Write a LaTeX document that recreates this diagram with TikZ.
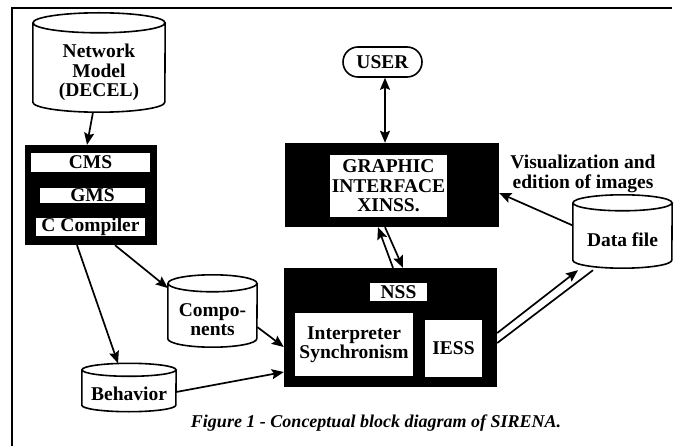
\documentclass[tikz,border=0pt]{standalone}
\usepackage{fontspec}
\setmainfont{Liberation Serif}
\usetikzlibrary{shapes.misc,arrows.meta}
\newcommand\diafont{\fontsize{19.5}{19.5}\selectfont\bfseries}
% cylinder round the last node: #1 x radius, #2 y radius
\newcommand\drawstore[2]{\pgfextra{\draw[line width=1.6pt]
    ([yshift=#2]\tikzlastnode.north) ellipse [x radius=#1,y radius=#2]
    ([yshift=#2]\tikzlastnode.north west) -- ([yshift=#2]\tikzlastnode.south west)
    arc[start angle=180,end angle=360,x radius=#1,y radius=#2] -- ([yshift=#2]\tikzlastnode.north east);}}

\begin{document}
\begin{tikzpicture}[x=1pt,y=-1pt,
    blk/.style={fill=black,inner sep=0pt},
    lbl/.style={fill=white,inner sep=0pt,font=\diafont,align=center},
    store/.style 2 args={rectangle,inner sep=0pt,font=\diafont,align=center,
      minimum width=2*#1,append after command={\drawstore{#1}{#2}}},
    arr/.style={line width=1.7pt,-{Stealth[length=12pt,width=10pt,inset=2pt]}},
    darr/.style={line width=1.7pt,{Stealth[length=12pt,width=10pt,inset=2pt]}-{Stealth[length=12pt,width=10pt,inset=2pt]}}]
  \useasboundingbox (0,0) rectangle (677,446);
  \draw[line width=1.3pt] (12,446) -- (12,8) -- (672,8);
  % left column
  \node[store={66pt}{10pt},minimum height=79pt] (net) at (99,72.5) {Network\\Model\\(DECEL)};
  \node[blk,minimum width=132pt,minimum height=100pt] (cc) at (91,195) {};
  \node[lbl,minimum width=119pt,minimum height=19pt] (cms) at (90.5,162.5) {CMS};
  \node[lbl,minimum width=105pt,minimum height=15pt] (gms) at (92.5,195.5) {GMS};
  \node[lbl,minimum width=109pt,minimum height=14pt] (ccomp) at (90.5,227) {C Compiler};
  \node[store={44.5pt}{8.5pt},minimum height=55pt] (comp) at (212.5,319.5) {Compo-\\nents};
  \node[store={47pt}{6.5pt},minimum height=35pt] (beh) at (129,394) {Behavior};
  % right column
  \node[rounded rectangle,draw,line width=1.6pt,font=\diafont,minimum width=79pt,minimum height=30pt,inner sep=0pt] (user) at (382.5,62) {USER};
  \node[blk,minimum width=214pt,minimum height=84pt] (gui) at (392,185) {};
  \node[lbl,minimum width=117pt,minimum height=62pt] (xinss) at (388.5,186) {GRAPHIC\\INTERFACE\\XINSS.};
  \node[blk,minimum width=213pt,minimum height=119pt] (nss) at (390.5,327.5) {};
  \node[lbl,minimum width=57pt,minimum height=18pt] (nsslbl) at (398.5,292) {NSS};
  \node[lbl,minimum width=118pt,minimum height=63pt] (interp) at (354,344.5) {Interpreter\\Synchronism};
  \node[lbl,minimum width=57pt,minimum height=57pt] (iess) at (453.5,348.5) {IESS};
  \node[store={49.5pt}{8pt},minimum height=57pt] (data) at (622.5,239.5) {Data file};
  \node[font=\diafont,align=center,inner sep=0pt] (vis) at (583,174) {Visualization and\\edition of images};
  \node[font=\fontsize{18}{19}\selectfont\bfseries\itshape,inner sep=0pt] (cap) at (376,423) {Figure 1 - Conceptual block diagram of SIRENA.};

  \draw[arr] ([xshift=-6pt]net.south) -- ([xshift=-4pt]cc.north);
  \draw[arr] ([xshift=-14pt]cc.south) -- ([xshift=-11pt,yshift=13pt]beh.north);
  \draw[arr] ([xshift=24pt]cc.south) -- ([yshift=31.5pt]comp.west);
  \draw[arr] ([yshift=-7.5pt]comp.east) -- ([yshift=-19.5pt]nss.west);
  \draw[arr] ([yshift=2pt]beh.east) -- ([yshift=-44.5pt]nss.west);
  \draw[darr] ([xshift=2.5pt]user.south) -- ([xshift=2.5pt]user.south |- gui.north);
  \draw[arr] ([xshift=2.5pt]nss.north) -- ([xshift=-14pt]gui.south);
  \draw[arr] ([xshift=-7pt]gui.south) -- ([xshift=12.5pt]nss.north);
  \draw[arr] ([yshift=14pt]data.west) -- ([yshift=-8pt]gui.east);
  \draw[arr] ([yshift=-5.5pt]nss.east) -- ([xshift=-44.5pt,yshift=-2pt]data.south);
  \draw[line width=1.7pt] ([yshift=-15.5pt]nss.east) -- ([xshift=-29.5pt,yshift=-2pt]data.south);
\end{tikzpicture}
\end{document}
